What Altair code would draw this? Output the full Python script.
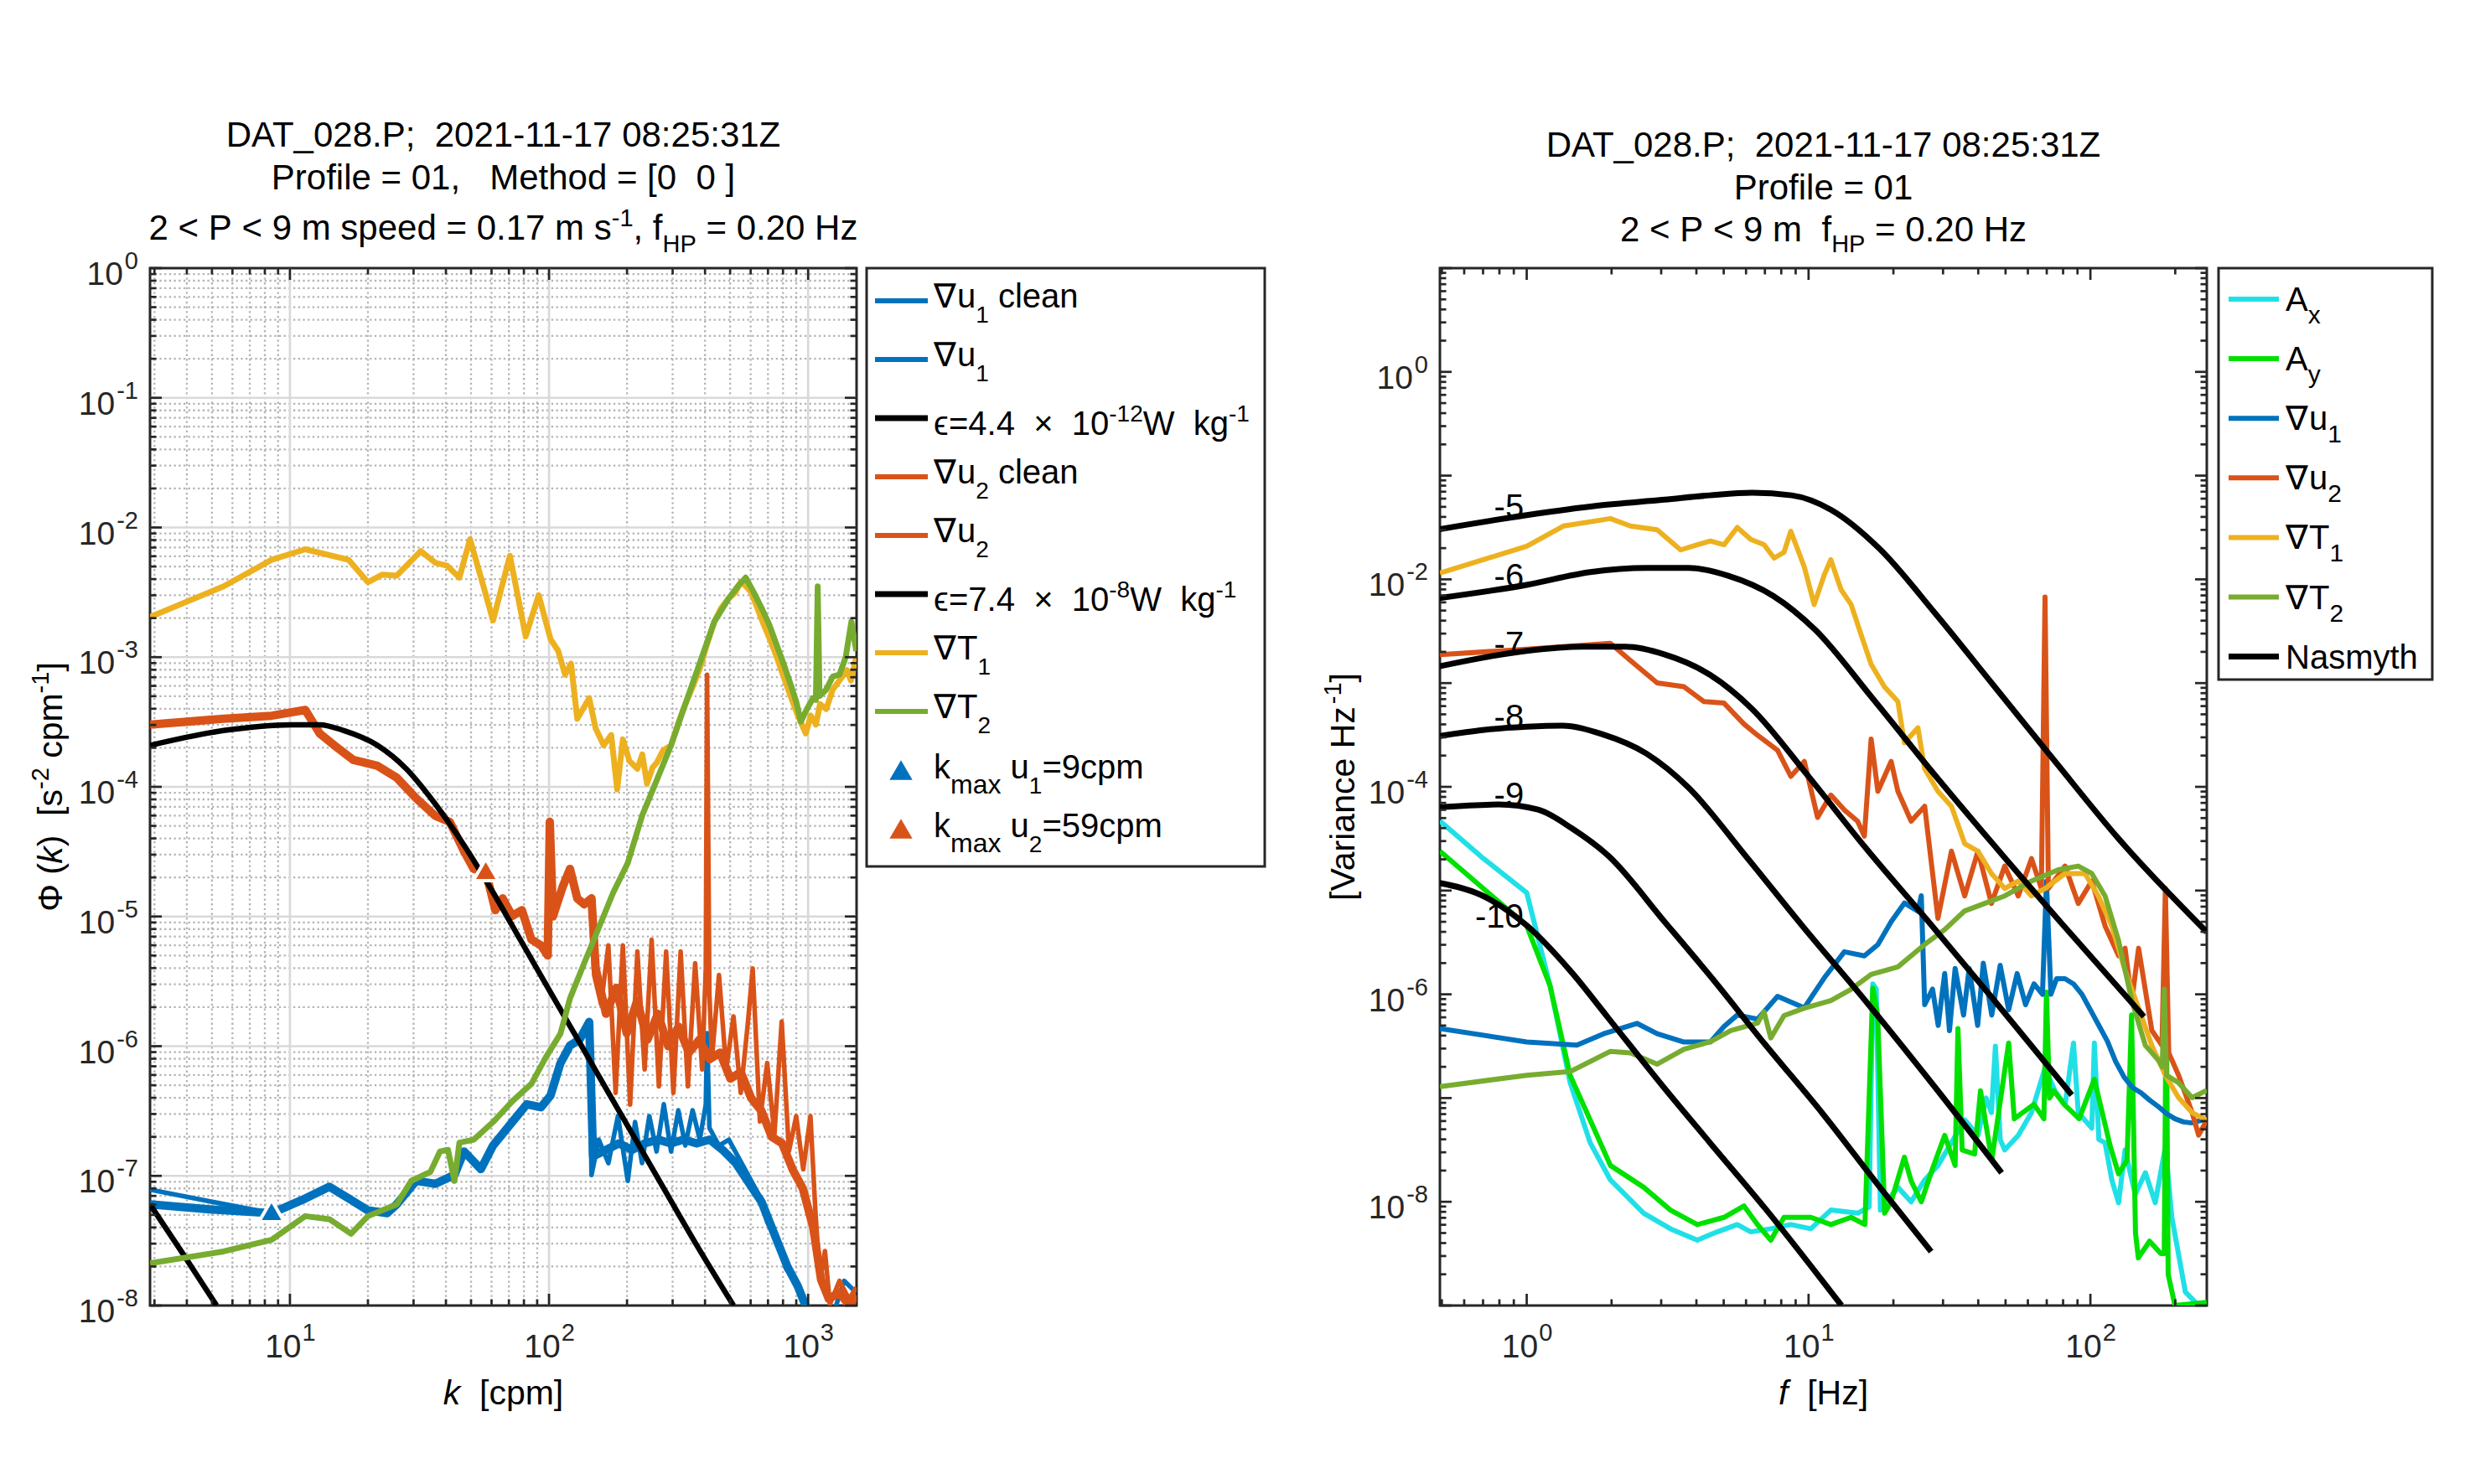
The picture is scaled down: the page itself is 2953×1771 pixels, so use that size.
import altair as alt
import pandas as pd

# ---------------------------------------------------------------
# Values (log10 of the axis values)
# ---------------------------------------------------------------
# LEFT panel: (log10 k [cpm], log10 Phi [s^-2 cpm^-1])
L_T1 = [(0.460,-2.690),(0.744,-2.454),(0.929,-2.250),(1.059,-2.168),(1.227,-2.250),(1.301,-2.422),
        (1.357,-2.363),(1.412,-2.372),(1.505,-2.182),(1.561,-2.272),(1.607,-2.295),(1.654,-2.386),
        (1.695,-2.091),(1.747,-2.454),(1.784,-2.717),(1.849,-2.218),(1.910,-2.840),(1.960,-2.522),
        (2.006,-2.862),(2.035,-2.950),(2.062,-3.135),(2.085,-3.050),(2.109,-3.475),(2.155,-3.316),
        (2.180,-3.550),(2.211,-3.680),(2.240,-3.600),(2.263,-4.020),(2.285,-3.634),(2.310,-3.800),
        (2.341,-3.861),(2.360,-3.750),(2.378,-3.975),(2.400,-3.850),(2.415,-3.816),(2.440,-3.720),
        (2.471,-3.680),(2.500,-3.500),(2.526,-3.362),(2.550,-3.250),(2.582,-3.089),(2.610,-2.900),
        (2.638,-2.726),(2.665,-2.620),(2.694,-2.545),(2.720,-2.500),(2.740,-2.420),(2.759,-2.450),
        (2.780,-2.500),(2.800,-2.600),(2.824,-2.726),(2.850,-2.850),(2.879,-2.999),(2.905,-3.150),
        (2.935,-3.316),(2.960,-3.450),(2.991,-3.589),(3.010,-3.450),(3.030,-3.520),(3.046,-3.362),
        (3.070,-3.400),(3.095,-3.250),(3.121,-3.180),(3.150,-3.100),(3.165,-3.180),(3.186,-2.999)]
L_T2 = [(0.460,-7.674),(0.744,-7.583),(0.929,-7.493),(1.059,-7.311),(1.152,-7.334),(1.236,-7.447),
        (1.301,-7.311),(1.412,-7.220),(1.468,-7.039),(1.542,-6.970),(1.579,-6.812),(1.610,-6.800),
        (1.635,-7.039),(1.654,-6.744),(1.709,-6.721),(1.784,-6.585),(1.858,-6.426),(1.932,-6.290),
        (1.988,-6.085),(2.044,-5.904),(2.081,-5.631),(2.136,-5.359),(2.192,-5.087),(2.248,-4.814),
        (2.304,-4.587),(2.359,-4.224),(2.415,-3.952),(2.471,-3.680),(2.526,-3.362),(2.582,-3.044),
        (2.638,-2.726),(2.694,-2.545),(2.730,-2.450),(2.759,-2.386),(2.790,-2.500),(2.824,-2.636),
        (2.850,-2.750),(2.879,-2.908),(2.905,-3.050),(2.935,-3.226),(2.955,-3.350),(2.972,-3.498),
        (2.995,-3.400),(3.019,-3.316),(3.030,-3.330),(3.037,-2.454),(3.044,-3.300),(3.070,-3.250),
        (3.095,-3.150),(3.121,-3.135),(3.145,-3.000),(3.167,-2.726),(3.186,-2.953)]
L_U2_LOW = [(0.460,-3.521),(0.744,-3.475),(0.929,-3.452),(1.059,-3.407),(1.115,-3.589),(1.171,-3.680),
            (1.245,-3.793),(1.338,-3.838),(1.412,-3.929),(1.487,-4.088),(1.561,-4.224),(1.617,-4.270),
            (1.672,-4.497),(1.709,-4.633),(1.756,-4.656),(1.793,-4.951),(1.821,-4.860),(1.858,-4.996),
            (1.895,-4.951),(1.932,-5.178),(1.969,-5.223),(1.995,-5.300),(2.003,-4.270),(2.015,-5.000),
            (2.053,-4.769),(2.081,-4.633),(2.109,-4.860),(2.136,-4.906),(2.164,-4.860)]
L_U2_CLEAN_HIGH = [(2.180,-5.40),(2.220,-5.75),(2.260,-5.55),(2.300,-5.90),(2.340,-5.65),(2.380,-5.95),
                   (2.420,-5.75),(2.460,-6.00),(2.500,-5.85),(2.540,-6.05),(2.580,-5.95),(2.620,-6.10),
                   (2.660,-6.05),(2.700,-6.25),(2.740,-6.20),(2.780,-6.40),(2.820,-6.50),(2.860,-6.70),
                   (2.900,-6.75),(2.940,-6.95),(2.980,-7.10),(3.020,-7.40),(3.050,-7.80),(3.080,-7.95),
                   (3.120,-7.90),(3.160,-8.00),(3.186,-7.92)]
L_U2_RAW_HIGH = [(2.174,-5.450),(2.201,-5.677),(2.229,-5.223),(2.257,-6.360),(2.285,-5.223),(2.313,-6.450),
                 (2.341,-5.270),(2.369,-6.180),(2.396,-5.180),(2.424,-6.310),(2.452,-5.270),(2.480,-6.360),
                 (2.508,-5.270),(2.536,-6.310),(2.564,-5.360),(2.591,-6.180),(2.605,-5.400),(2.610,-3.135),
                 (2.619,-5.600),(2.629,-6.090),(2.656,-5.450),(2.684,-6.180),(2.712,-5.770),(2.740,-6.360),
                 (2.768,-5.810),(2.786,-5.400),(2.814,-6.580),(2.842,-6.130),(2.870,-6.680),(2.898,-5.810),
                 (2.926,-6.810),(2.954,-6.540),(2.981,-6.950),(3.009,-6.540),(3.028,-7.270),(3.046,-7.810),
                 (3.065,-7.580),(3.084,-7.990),(3.121,-7.810),(3.158,-7.950),(3.186,-7.860)]
L_U1_CLEAN_LOW = [(0.460,-7.220),(0.700,-7.260),(0.929,-7.288)]
L_U1_RAW_LOW = [(0.460,-7.107),(0.700,-7.200),(0.929,-7.288)]
L_U1_MID = [(1.059,-7.175),(1.152,-7.084),(1.227,-7.175),(1.301,-7.266),(1.375,-7.288),(1.412,-7.220),
            (1.487,-7.039),(1.561,-7.061),(1.635,-6.993),(1.672,-6.812),(1.737,-6.948),(1.784,-6.766),
            (1.858,-6.585),(1.914,-6.448),(1.969,-6.471),(2.006,-6.380),(2.044,-6.131),(2.081,-5.995),
            (2.118,-5.949),(2.155,-5.813)]
L_U1_CLEAN_HIGH = [(2.170,-6.85),(2.220,-6.80),(2.270,-6.75),(2.320,-6.80),(2.370,-6.75),(2.420,-6.72),
                   (2.470,-6.75),(2.520,-6.72),(2.570,-6.75),(2.620,-6.72),(2.670,-6.80),(2.720,-6.90),
                   (2.770,-7.05),(2.820,-7.20),(2.870,-7.45),(2.920,-7.70),(2.960,-7.85),(3.000,-8.05)]
L_U1_RAW_HIGH = [(2.164,-6.993),(2.192,-6.721),(2.229,-6.902),(2.266,-6.539),(2.304,-7.039),(2.332,-6.585),
                 (2.359,-6.902),(2.387,-6.539),(2.415,-6.812),(2.443,-6.448),(2.471,-6.812),(2.499,-6.494),
                 (2.526,-6.766),(2.554,-6.494),(2.582,-6.721),(2.605,-6.450),(2.610,-5.900),(2.619,-6.630),
                 (2.656,-6.766),(2.694,-6.721),(2.731,-6.857),(2.768,-6.993),(2.805,-7.129),(2.842,-7.356),
                 (2.879,-7.493),(2.916,-7.720),(2.954,-7.810),(2.991,-7.992),(3.030,-8.050),(3.100,-8.050),
                 (3.139,-7.810),(3.186,-7.901)]
L_NAS_HI = [(0.460,-3.680),(0.744,-3.566),(1.004,-3.521),(1.115,-3.521),(1.208,-3.566),(1.338,-3.680),
            (1.449,-3.861),(1.561,-4.133),(1.672,-4.451),(1.784,-4.814),(1.895,-5.200),(2.006,-5.586),
            (2.118,-5.972),(2.229,-6.358),(2.341,-6.744),(2.452,-7.129),(2.564,-7.515),(2.712,-8.000)]
L_NAS_LO = [(0.460,-7.220),(0.590,-7.610),(0.717,-8.000)]
L_KMAX = [(0.929,-7.270), (1.756,-4.640)]   # triangles u1, u2

# RIGHT panel: (log10 f [Hz], log10 variance [Hz^-1])
R_AX = [(-0.308,-4.33),(-0.154,-4.69),(0.000,-5.02),(0.083,-5.92),(0.154,-6.85),(0.225,-7.43),(0.297,-7.79),
        (0.415,-8.11),(0.510,-8.26),(0.605,-8.37),(0.676,-8.29),(0.747,-8.22),(0.795,-8.29),(0.866,-8.26),
        (0.937,-8.22),(1.008,-8.26),(1.079,-8.08),(1.174,-8.11),(1.215,-8.05),(1.228,-5.90),(1.240,-5.95),
        (1.255,-8.08),(1.317,-7.86),(1.364,-8.00),(1.412,-7.79),(1.459,-7.65),(1.507,-7.43),(1.554,-7.21),
        (1.601,-7.36),(1.630,-7.00),(1.649,-7.14),(1.663,-6.50),(1.680,-7.40),(1.696,-7.50),(1.744,-7.36),
        (1.791,-7.14),(1.839,-6.71),(1.874,-6.93),(1.910,-7.07),(1.940,-6.47),(1.957,-7.14),(2.005,-7.29),
        (2.014,-6.47),(2.030,-7.40),(2.052,-7.43),(2.076,-7.79),(2.100,-8.01),(2.123,-7.50),(2.159,-7.93),
        (2.195,-7.72),(2.230,-8.01),(2.266,-7.47),(2.289,-8.15),(2.337,-8.87),(2.384,-9.00),(2.413,-8.98)]
R_AY = [(-0.308,-4.62),(0.000,-5.34),(0.083,-5.92),(0.154,-6.78),(0.225,-7.21),(0.297,-7.65),(0.415,-7.86),
        (0.510,-8.08),(0.605,-8.22),(0.700,-8.15),(0.771,-8.04),(0.819,-8.22),(0.866,-8.37),(0.913,-8.15),
        (1.008,-8.15),(1.079,-8.22),(1.151,-8.15),(1.200,-8.22),(1.228,-5.94),(1.245,-6.20),(1.270,-8.11),
        (1.293,-8.00),(1.340,-7.57),(1.364,-7.80),(1.400,-8.00),(1.440,-7.68),(1.483,-7.36),(1.520,-7.65),
        (1.530,-6.33),(1.545,-7.50),(1.589,-7.54),(1.610,-6.93),(1.650,-7.60),(1.710,-6.47),(1.730,-7.20),
        (1.800,-7.06),(1.835,-7.20),(1.844,-5.98),(1.855,-7.00),(1.870,-6.93),(1.907,-7.06),(1.960,-7.20),
        (2.014,-6.82),(2.070,-7.46),(2.100,-7.73),(2.130,-7.60),(2.146,-6.20),(2.160,-8.30),(2.170,-8.54),
        (2.210,-8.38),(2.250,-8.50),(2.262,-8.50),(2.269,-5.93),(2.276,-8.70),(2.300,-9.00),(2.413,-8.97)]
R_U1 = [(-0.308,-6.33),(0.000,-6.46),(0.178,-6.49),(0.273,-6.38),(0.391,-6.28),(0.463,-6.38),(0.558,-6.46),
        (0.652,-6.46),(0.700,-6.31),(0.747,-6.20),(0.819,-6.24),(0.890,-6.02),(0.985,-6.13),(1.056,-5.84),
        (1.127,-5.59),(1.198,-5.63),(1.246,-5.52),(1.293,-5.30),(1.340,-5.12),(1.388,-5.20),(1.400,-5.05),
        (1.412,-6.10),(1.440,-5.95),(1.460,-6.30),(1.483,-5.80),(1.500,-6.35),(1.520,-5.75),(1.550,-6.20),
        (1.570,-5.75),(1.600,-6.30),(1.620,-5.70),(1.650,-6.20),(1.680,-5.72),(1.710,-6.15),(1.740,-5.80),
        (1.770,-6.10),(1.800,-5.90),(1.830,-6.00),(1.844,-4.91),(1.860,-6.00),(1.880,-5.85),(1.910,-5.85),
        (1.940,-5.90),(1.970,-6.00),(2.000,-6.15),(2.030,-6.30),(2.060,-6.45),(2.090,-6.65),(2.120,-6.80),
        (2.150,-6.90),(2.180,-6.95),(2.210,-7.02),(2.240,-7.08),(2.270,-7.15),(2.300,-7.20),(2.330,-7.23),
        (2.360,-7.24),(2.413,-7.20)]
R_U2 = [(-0.308,-2.725),(0.000,-2.674),(0.297,-2.617),(0.368,-2.782),(0.463,-2.999),(0.558,-3.035),
        (0.629,-3.179),(0.700,-3.193),(0.771,-3.395),(0.819,-3.503),(0.890,-3.647),(0.937,-3.899),
        (0.985,-3.755),(1.032,-4.295),(1.079,-4.079),(1.127,-4.223),(1.174,-4.331),(1.198,-4.475),
        (1.222,-3.539),(1.246,-4.043),(1.293,-3.755),(1.317,-4.043),(1.364,-4.331),(1.412,-4.187),
        (1.459,-5.268),(1.507,-4.620),(1.554,-5.052),(1.601,-4.620),(1.649,-5.124),(1.696,-4.764),
        (1.744,-5.052),(1.791,-4.692),(1.826,-4.980),(1.839,-2.170),(1.851,-4.980),(1.910,-4.764),
        (1.957,-5.124),(2.005,-4.908),(2.052,-5.340),(2.100,-5.628),(2.123,-5.556),(2.147,-6.061),
        (2.171,-5.556),(2.218,-6.349),(2.254,-6.493),(2.266,-4.980),(2.278,-6.565),(2.313,-6.781),
        (2.361,-7.141),(2.384,-7.357),(2.413,-7.213)]
R_T1 = [(-0.308,-1.940),(-0.154,-1.810),(0.000,-1.680),(0.130,-1.486),(0.297,-1.414),(0.368,-1.486),
        (0.463,-1.522),(0.546,-1.716),(0.605,-1.666),(0.652,-1.630),(0.700,-1.666),(0.747,-1.500),
        (0.795,-1.615),(0.842,-1.666),(0.878,-1.795),(0.913,-1.738),(0.937,-1.536),(0.985,-1.882),
        (1.020,-2.242),(1.056,-1.954),(1.079,-1.810),(1.115,-2.098),(1.151,-2.242),(1.186,-2.530),
        (1.222,-2.818),(1.269,-3.035),(1.317,-3.179),(1.340,-3.575),(1.388,-3.431),(1.412,-3.827),
        (1.459,-4.043),(1.507,-4.187),(1.554,-4.548),(1.601,-4.620),(1.649,-4.836),(1.696,-4.980),
        (1.744,-4.908),(1.791,-5.052),(1.839,-4.980),(1.910,-4.836),(1.981,-4.836),(2.028,-5.052),
        (2.076,-5.340),(2.123,-5.772),(2.171,-6.133),(2.218,-6.493),(2.266,-6.781),(2.313,-6.997),
        (2.361,-7.141),(2.413,-7.213)]
R_T2 = [(-0.308,-6.890),(0.000,-6.780),(0.154,-6.745),(0.297,-6.550),(0.368,-6.565),(0.463,-6.673),
        (0.558,-6.529),(0.652,-6.457),(0.724,-6.349),(0.819,-6.277),(0.842,-6.169),(0.866,-6.421),
        (0.913,-6.205),(0.985,-6.133),(1.079,-6.061),(1.151,-5.952),(1.222,-5.808),(1.317,-5.736),
        (1.412,-5.520),(1.483,-5.376),(1.554,-5.196),(1.625,-5.124),(1.696,-5.052),(1.791,-4.908),
        (1.886,-4.800),(1.957,-4.764),(2.005,-4.836),(2.052,-5.052),(2.100,-5.484),(2.147,-6.061),
        (2.195,-6.493),(2.242,-6.637),(2.255,-6.700),(2.262,-5.950),(2.270,-6.780),(2.313,-6.853),
        (2.361,-6.997),(2.413,-6.925)]
R_NAS = {
    "-5": [(-0.309,-1.516),(0.000,-1.381),(0.250,-1.290),(0.489,-1.232),(0.650,-1.190),(0.800,-1.165),
           (0.940,-1.190),(1.080,-1.330),(1.250,-1.700),(1.450,-2.330),(1.650,-3.000),(1.879,-3.770),
           (2.100,-4.500),(2.413,-5.400)],
    "-6": [(-0.309,-2.180),(0.000,-2.053),(0.225,-1.930),(0.425,-1.890),(0.575,-1.890),(0.715,-1.965),
           (0.875,-2.160),(1.025,-2.490),(1.225,-3.140),(1.425,-3.810),(1.654,-4.550),(1.896,-5.310),
           (2.190,-6.215)],
    "-7": [(-0.309,-2.837),(0.000,-2.689),(0.200,-2.650),(0.350,-2.650),(0.490,-2.725),(0.650,-2.920),
           (0.800,-3.250),(1.000,-3.900),(1.200,-4.580),(1.429,-5.310),(1.650,-6.030),(1.934,-6.970)],
    "-8": [(-0.309,-3.510),(-0.150,-3.450),(0.000,-3.420),(0.125,-3.410),(0.265,-3.490),(0.425,-3.680),
           (0.575,-4.010),(0.775,-4.660),(0.975,-5.330),(1.204,-6.070),(1.450,-6.900),(1.685,-7.720)],
    "-9": [(-0.309,-4.196),(-0.100,-4.170),(0.040,-4.220),(0.160,-4.400),(0.290,-4.666),(0.489,-5.300),
           (0.650,-5.820),(0.845,-6.480),(1.050,-7.150),(1.250,-7.850),(1.435,-8.480)],
    "-10": [(-0.309,-4.927),(-0.164,-5.040),(0.000,-5.336),(0.160,-5.790),(0.290,-6.230),(0.489,-6.906),
            (0.650,-7.430),(0.845,-8.060),(1.117,-9.000)],
}
R_NAS_LABELS = [("-5",-0.116,-1.307),("-6",-0.116,-1.978),("-7",-0.116,-2.635),
                ("-8",-0.116,-3.337),("-9",-0.116,-4.085),("-10",-0.183,-5.263)]

# legend labels: (text, kind) with kind n=normal, g=leading symbol, sub, sup
LEFT_LEGEND = [
    [("∇", "g"), ("u", "n"), ("1", "sub"), (" clean", "n")],
    [("∇", "g"), ("u", "n"), ("1", "sub")],
    [("ϵ", "g"), ("=4.4  ×  10", "n"), ("-12", "sup"), ("W  kg", "n"), ("-1", "sup")],
    [("∇", "g"), ("u", "n"), ("2", "sub"), (" clean", "n")],
    [("∇", "g"), ("u", "n"), ("2", "sub")],
    [("ϵ", "g"), ("=7.4  ×  10", "n"), ("-8", "sup"), ("W  kg", "n"), ("-1", "sup")],
    [("∇", "g"), ("T", "n"), ("1", "sub")],
    [("∇", "g"), ("T", "n"), ("2", "sub")],
    [("k", "n"), ("max", "subw"), (" u", "n"), ("1", "sub"), ("=9cpm", "n")],
    [("k", "n"), ("max", "subw"), (" u", "n"), ("2", "sub"), ("=59cpm", "n")],
]
RIGHT_LEGEND = [
    [("A", "n"), ("x", "sub")],
    [("A", "n"), ("y", "sub")],
    [("∇", "g"), ("u", "n"), ("1", "sub")],
    [("∇", "g"), ("u", "n"), ("2", "sub")],
    [("∇", "g"), ("T", "n"), ("1", "sub")],
    [("∇", "g"), ("T", "n"), ("2", "sub")],
    [("Nasmyth", "n")],
]

# tick labels: exponents of 10
L_XEXP = [1, 2, 3]
L_YEXP = [-8, -7, -6, -5, -4, -3, -2, -1, 0]
R_XEXP = [0, 1, 2]
R_YEXP = [-8, -6, -4, -2, 0]

# ---------------------------------------------------------------
BLUE, ORANGE, YELLOW, OLIVE = "#0072BD", "#D95319", "#EDB120", "#77AC30"
CYAN, GREEN, BLACK, AXC = "#20E0E6", "#00E100", "#000000", "#262626"
FONT = "Liberation Sans"
W1, W2, H = 843, 915, 1238

AW = {' ': 278, '\u00a0': 278, '<': 584, '=': 584, '.': 278, ',': 278, '-': 333, ';': 278, ':': 278,
      '_': 556, '[': 278, ']': 278, '(': 333, ')': 333, 'A': 667, 'D': 722, 'H': 722, 'M': 833,
      'N': 722, 'P': 667, 'T': 611, 'V': 667, 'W': 944, 'Z': 611, 'a': 556, 'c': 500, 'd': 556,
      'e': 556, 'f': 278, 'g': 556, 'h': 556, 'i': 222, 'k': 500, 'l': 222, 'm': 833, 'n': 556,
      'o': 556, 'p': 556, 'r': 333, 's': 500, 't': 278, 'u': 556, 'v': 500, 'x': 500, 'y': 500,
      'z': 500, 'Φ': 778, '×': 584}
for _d in "0123456789":
    AW[_d] = 556


def tw(s, size):
    return sum(AW.get(c, 556) for c in s) / 1000.0 * size


def nb(s):
    return s.replace(" ", "\u00a0")


DUMMY = pd.DataFrame({"d": [0]})


def txt(t, x, y, size, align="left", baseline="alphabetic", style="normal", angle=0, color=BLACK):
    kw = dict(text=nb(t), align=align, baseline=baseline, fontSize=size, font=FONT,
              fontStyle=style, color=color)
    if angle:
        kw["angle"] = angle
    return alt.Chart(DUMMY).mark_text(**kw).encode(x=alt.value(x), y=alt.value(y))


def rich(pieces, x0, base, size, ssize, sup_dy, sub_dy, baseline="alphabetic"):
    out = []
    x = x0
    for t, k in pieces:
        fs = size if k in ("n", "i") else ssize
        dy = {"n": 0, "i": 0, "sup": sup_dy, "sub": sub_dy}[k]
        s = t.lstrip(" ")
        lead = tw(t[:len(t) - len(s)], fs)
        out.append(txt(s, x + lead, base + dy, fs, baseline=baseline,
                       style="italic" if k == "i" else "normal"))
        x += tw(t, fs)
    return out


def rich_centered(pieces, cx, base, size, ssize, sup_dy, sub_dy):
    total = sum(tw(t, size if k in ("n", "i") else ssize) for t, k in pieces)
    return rich(pieces, cx - total / 2.0, base, size, ssize, sup_dy, sub_dy)


def rich_rot(pieces, xb, yc, size, ssize, sup_dx, color=BLACK):
    """Text rotated to read bottom-to-top; baseline at x = xb, centred on y = yc."""
    total = sum(tw(t, size if k in ("n", "i") else ssize) for t, k in pieces)
    y = yc + total / 2.0
    out = []
    for t, k in pieces:
        fs = size if k in ("n", "i") else ssize
        s = t.lstrip(" ")
        lead = tw(t[:len(t) - len(s)], fs)
        out.append(txt(s, xb + (sup_dx if k == "sup" else 0), y - lead, fs, angle=270,
                       style="italic" if k == "i" else "normal", color=color))
        y -= tw(t, fs)
    return out


GLYPH_ADV = {"∇": 28, "ϵ": 18}


def legend_text(pieces, x0, base, size, sizes, offs):
    """sizes/offs: dict kind -> font size / baseline shift."""
    out = []
    x = x0
    for t, k in pieces:
        if k == "g":
            out.append(txt(t, x0, base, size, align="left"))
            x = x0 + GLYPH_ADV[t]
            continue
        fs = sizes.get(k, size)
        s = t.lstrip(" ")
        lead = tw(t[:len(t) - len(s)], fs)
        out.append(txt(s, x + lead, base + offs.get(k, 0), fs))
        x += tw(t, fs)
    return out


def df_of(pts):
    return pd.DataFrame({"x": [10 ** a for a, b in pts], "y": [10 ** b for a, b in pts]})


TL_BASE, TL_EXP = 39, 29


class Panel:
    def __init__(self, xs, ys, W):
        self.xs, self.ys, self.W = xs, ys, W

    def X(self):
        return alt.X("x:Q", scale=self.xs, axis=None)

    def Y(self):
        return alt.Y("y:Q", scale=self.ys, axis=None)

    def line(self, pts, color, width, smooth=False):
        kw = dict(color=color, strokeWidth=width, clip=True, strokeJoin="round")
        if smooth:
            kw["interpolate"] = "monotone"
        return alt.Chart(df_of(pts)).mark_line(**kw).encode(x=self.X(), y=self.Y())

    def vrules(self, vals, y0, y1, color, width, dash=None):
        kw = dict(color=color, strokeWidth=width)
        if dash:
            kw["strokeDash"] = dash
        return alt.Chart(pd.DataFrame({"x": vals})).mark_rule(**kw).encode(
            x=self.X(), y=alt.value(y0), y2=alt.value(y1))

    def hrules(self, vals, x0, x1, color, width, dash=None):
        kw = dict(color=color, strokeWidth=width)
        if dash:
            kw["strokeDash"] = dash
        return alt.Chart(pd.DataFrame({"y": vals})).mark_rule(**kw).encode(
            y=self.Y(), x=alt.value(x0), x2=alt.value(x1))

    def frame_ticks(self, xmaj, xmin, ymaj, ymin):
        W = self.W
        L, l, c, w = 14, 7.5, AXC, 2.7
        return [self.vrules(xmaj, H, H - L, c, w), self.vrules(xmin, H, H - l, c, w),
                self.vrules(xmaj, 0, L, c, w), self.vrules(xmin, 0, l, c, w),
                self.hrules(ymaj, 0, L, c, w), self.hrules(ymin, 0, l, c, w),
                self.hrules(ymaj, W, W - L, c, w), self.hrules(ymin, W, W - l, c, w)]

    def xlabels(self, exps):
        out = []
        for e in exps:
            ex = str(e)
            wb, we = tw("10", TL_BASE), tw(ex, TL_EXP)
            d = pd.DataFrame({"x": [10.0 ** e]})
            out.append(alt.Chart(d).mark_text(text="10", align="left", baseline="middle",
                                              dx=-(wb + we) / 2, fontSize=TL_BASE, font=FONT,
                                              color=AXC).encode(x=self.X(), y=alt.value(H + 50)))
            out.append(alt.Chart(d).mark_text(text=ex, align="left", baseline="middle",
                                              dx=-(wb + we) / 2 + wb + 1, fontSize=TL_EXP, font=FONT,
                                              color=AXC).encode(x=self.X(), y=alt.value(H + 33)))
        return out

    def ylabels(self, exps, pad=14):
        out = []
        for e in exps:
            ex = str(e)
            we = tw(ex, TL_EXP)
            d = pd.DataFrame({"y": [10.0 ** e]})
            out.append(alt.Chart(d).mark_text(text="10", align="right", baseline="middle",
                                              dx=-(pad + we + 2), dy=8, fontSize=TL_BASE, font=FONT,
                                              color=AXC).encode(y=self.Y(), x=alt.value(0)))
            out.append(alt.Chart(d).mark_text(text=ex, align="right", baseline="middle",
                                              dx=-pad, dy=-8, fontSize=TL_EXP, font=FONT,
                                              color=AXC).encode(y=self.Y(), x=alt.value(0)))
        return out


def log_ticks(e_lo, e_hi, lo, hi):
    major = [10.0 ** e for e in range(e_lo, e_hi + 1) if lo * 0.999 <= 10.0 ** e <= hi * 1.001]
    minor = [m * 10.0 ** e for e in range(e_lo, e_hi + 1) for m in range(2, 10) if lo < m * 10.0 ** e < hi]
    return major, minor


# ------------------------------- LEFT PANEL --------------------------------
xs1 = alt.Scale(type="log", domain=[10 ** 0.46, 10 ** 3.187], nice=False)
ys1 = alt.Scale(type="log", domain=[1e-8, 1], nice=False)
x1maj, x1min = log_ticks(0, 3, 10 ** 0.46, 10 ** 3.187)
y1maj, y1min = log_ticks(-8, 0, 1e-8, 1)
P1 = Panel(xs1, ys1, W1)

L = []
L.append(alt.Chart(DUMMY).mark_rule(color="white", strokeWidth=1).encode(
    x=alt.value(-169), x2=alt.value(W1 + 492), y=alt.value(-190)))
L.append(P1.vrules(x1min, 0, H, "#b4b4b4", 2.3, [2.3, 3.4]))
L.append(P1.hrules(y1min, 0, W1, "#b4b4b4", 2.3, [2.3, 3.4]))
L.append(P1.vrules(x1maj, 0, H, "#d9d9d9", 2.7))
L.append(P1.hrules([v for v in y1maj if 1e-8 < v < 1], 0, W1, "#d9d9d9", 2.7))
L.append(P1.line(L_U1_CLEAN_LOW + L_U1_MID + L_U1_CLEAN_HIGH, BLUE, 10))
L.append(P1.line(L_U1_RAW_LOW + L_U1_MID + L_U1_RAW_HIGH, BLUE, 5.5))
L.append(P1.line(L_NAS_LO, BLACK, 6.5))
L.append(P1.line(L_U2_LOW + L_U2_CLEAN_HIGH, ORANGE, 10))
L.append(P1.line(L_U2_LOW + L_U2_RAW_HIGH, ORANGE, 5.5))
L.append(P1.line(L_NAS_HI, BLACK, 6.5, smooth=True))
L.append(P1.line(L_T1, YELLOW, 7))
L.append(P1.line(L_T2, OLIVE, 7))
for (pt, col) in zip(L_KMAX, [BLUE, ORANGE]):
    L.append(alt.Chart(df_of([pt])).mark_point(shape="triangle-up", filled=True, fill=col, size=900,
                                               stroke="white", strokeWidth=4, opacity=1).encode(
        x=P1.X(), y=P1.Y()))
L += P1.frame_ticks(x1maj, x1min, y1maj, y1min)
L += P1.xlabels(L_XEXP)
L += P1.ylabels(L_YEXP)

# left titles
L.append(txt("DAT_028.P;  2021-11-17 08:25:31Z", W1 / 2, -145, 42, align="center"))
L.append(txt("Profile = 01,   Method = [0  0 ]", W1 / 2, -94, 42, align="center"))
L += rich_centered([("2 < P < 9 m speed = 0.17 m s", "n"), ("-1", "sup"), (", f", "n"),
                    ("HP", "sub"), (" = 0.20 Hz", "n")], W1 / 2, -34, 42, 29, -16, 15)
# axis titles
L += rich_centered([("k", "i"), ("  [cpm]", "n")], W1 / 2, H + 118, 41, 41, 0, 0)
L += rich_rot([("Φ (", "n"), ("k", "i"), (")  [s", "n"), ("-2", "sup"), (" cpm", "n"),
               ("-1", "sup"), ("]", "n")], -105, H / 2, 41, 29, -16)

# left legend
lx = W1
L.append(alt.Chart(DUMMY).mark_rect(fill="white", stroke=AXC, strokeWidth=3).encode(
    x=alt.value(lx + 12), x2=alt.value(lx + 487), y=alt.value(0), y2=alt.value(714)))
leg_cols = [BLUE, BLUE, BLACK, ORANGE, ORANGE, BLACK, YELLOW, OLIVE, BLUE, ORANGE]
for i, (pieces, col) in enumerate(zip(LEFT_LEGEND, leg_cols)):
    ry = 39 + 70 * i
    kinds = [k for _, k in pieces]
    if i >= 8:
        L.append(alt.Chart(DUMMY).mark_point(shape="triangle-up", filled=True, fill=col, size=750,
                                             opacity=1, strokeWidth=0).encode(
            x=alt.value(lx + 53), y=alt.value(ry)))
        base = ry + 10
    else:
        L.append(alt.Chart(DUMMY).mark_rule(color=col, strokeWidth=7 if col == BLACK else 6).encode(
            x=alt.value(lx + 22), x2=alt.value(lx + 85), y=alt.value(ry)))
        base = ry + (20 if "sup" in kinds else 8)
    L += legend_text(pieces, lx + 92, base, 40, {"sub": 28, "subw": 32, "sup": 28},
                     {"sub": 18, "subw": 18, "sup": -16})

left = alt.layer(*L).properties(width=W1, height=H)

# ------------------------------- RIGHT PANEL -------------------------------
xs2 = alt.Scale(type="log", domain=[10 ** -0.308, 10 ** 2.413], nice=False)
ys2 = alt.Scale(type="log", domain=[1e-9, 10], nice=False)
x2maj, x2min = log_ticks(-1, 2, 10 ** -0.308, 10 ** 2.413)
y2maj, y2min = log_ticks(-9, 1, 1e-9, 10)
P2 = Panel(xs2, ys2, W2)

R = []
R.append(alt.Chart(DUMMY).mark_rule(color="white", strokeWidth=1).encode(
    x=alt.value(-150), x2=alt.value(W2 + 275), y=alt.value(-190)))
R.append(P2.line(R_AX, CYAN, 6))
R.append(P2.line(R_AY, GREEN, 6))
R.append(P2.line(R_U1, BLUE, 6))
R.append(P2.line(R_U2, ORANGE, 6))
R.append(P2.line(R_T1, YELLOW, 6))
R.append(P2.line(R_T2, OLIVE, 6))
for key in ["-5", "-6", "-7", "-8", "-9", "-10"]:
    R.append(P2.line(R_NAS[key], BLACK, 7, smooth=True))
lab_df = pd.DataFrame({"x": [10 ** a for _, a, _b in R_NAS_LABELS],
                       "y": [10 ** b for _, _a, b in R_NAS_LABELS],
                       "t": [t for t, _, _b in R_NAS_LABELS]})
R.append(alt.Chart(lab_df).mark_text(align="left", baseline="middle", fontSize=40, font=FONT,
                                     color=BLACK).encode(x=P2.X(), y=P2.Y(), text="t:N"))
R += P2.frame_ticks(x2maj, x2min, y2maj, y2min)
R += P2.xlabels(R_XEXP)
R += P2.ylabels(R_YEXP)

R.append(txt("DAT_028.P;  2021-11-17 08:25:31Z", W2 / 2, -133, 42, align="center"))
R.append(txt("Profile = 01", W2 / 2, -82, 42, align="center"))
R += rich_centered([("2 < P < 9 m  f", "n"), ("HP", "sub"), (" = 0.20 Hz", "n")],
                   W2 / 2, -32, 42, 29, -16, 13)
R += rich_centered([("f", "i"), ("  [Hz]", "n")], W2 / 2, H + 118, 41, 41, 0, 0)
R += rich_rot([("[Variance Hz", "n"), ("-1", "sup"), ("]", "n")], -102, H / 2, 41, 29, -16)

rx = W2
R.append(alt.Chart(DUMMY).mark_rect(fill="white", stroke=AXC, strokeWidth=3).encode(
    x=alt.value(rx + 14), x2=alt.value(rx + 269), y=alt.value(0), y2=alt.value(491)))
r_cols = [CYAN, GREEN, BLUE, ORANGE, YELLOW, OLIVE, BLACK]
for i, (pieces, col) in enumerate(zip(RIGHT_LEGEND, r_cols)):
    ry = 37 + 71.1 * i
    R.append(alt.Chart(DUMMY).mark_rule(color=col, strokeWidth=7 if col == BLACK else 6).encode(
        x=alt.value(rx + 26), x2=alt.value(rx + 86), y=alt.value(ry)))
    R += legend_text(pieces, rx + 94, ry + 14, 40, {"sub": 30}, {"sub": 15})

right = alt.layer(*R).properties(width=W2, height=H)

chart = alt.hconcat(left, right, spacing=50).properties(
    padding={"left": 0, "top": 120, "right": 5, "bottom": 5}, background="white"
).configure_view(stroke=AXC, strokeWidth=3)

chart.save("out.html", embed_options={"renderer": "svg", "actions": False})
